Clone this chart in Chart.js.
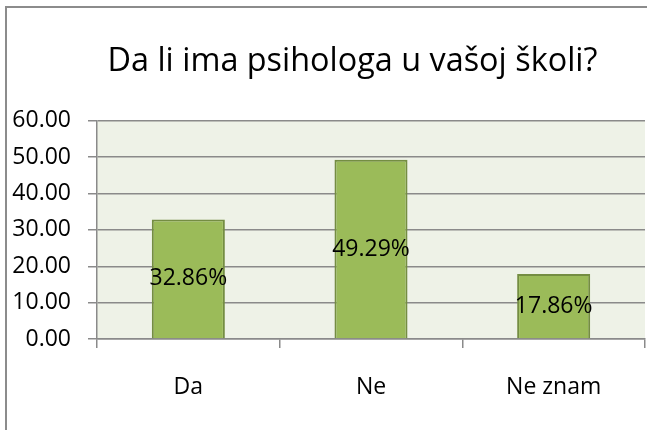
<!DOCTYPE html>
<html>
<head>
<meta charset="utf-8">
<script src="https://cdn.jsdelivr.net/npm/chart.js@4"></script>
<style>
  html, body { margin: 0; padding: 0; background: #fff; overflow: hidden; }
  #wrap { position: relative; width: 647px; height: 430px; overflow: hidden; }
  #chart { position: absolute; left: 0; top: 0; }
  #frame {
    position: absolute; left: 5px; top: 6px; right: 0; bottom: 0;
    border-left: 2px solid #8c8c8c; border-top: 2px solid #8c8c8c;
    pointer-events: none;
  }
</style>
</head>
<body>
<div id="wrap">
  <!-- the original picture is cropped on the right, so the canvas runs past the window -->
  <canvas id="chart" width="705" height="430"></canvas>
  <div id="frame"></div>
</div>
<script>
const categories = ["Da", "Ne", "Ne znam"];
const values = [32.86, 49.29, 17.86];
const yTicks = [0, 10, 20, 30, 40, 50, 60];
const chartTitle = "Da li ima psihologa u vašoj školi?";

const FONT = "'Open Sans', sans-serif";
const GRID = "#8a8a8a";

// light green plot area
const plotBg = {
  id: "plotBg",
  beforeDraw(chart) {
    const { ctx, chartArea: a } = chart;
    ctx.save();
    ctx.fillStyle = "#eef2e7";
    ctx.fillRect(a.left, a.top, a.right - a.left, a.bottom - a.top);
    ctx.restore();
  }
};

// percent labels in the middle of each bar
const barLabels = {
  id: "barLabels",
  afterDatasetsDraw(chart) {
    const { ctx } = chart;
    const meta = chart.getDatasetMeta(0);
    ctx.save();
    ctx.font = "23px " + FONT;
    ctx.fillStyle = "#000";
    ctx.textAlign = "center";
    ctx.textBaseline = "middle";
    meta.data.forEach((bar, i) => {
      const p = bar.getProps(["x", "y", "base"], true);
      ctx.fillText(values[i].toFixed(2) + "%", p.x, (p.y + p.base) / 2);
    });
    ctx.restore();
  }
};

new Chart(document.getElementById("chart"), {
  type: "bar",
  data: {
    labels: categories,
    datasets: [{
      data: values,
      backgroundColor: "#9bbb59",
      borderColor: "#748d42",
      borderWidth: 2,
      categoryPercentage: 1,
      barPercentage: 0.4
    }]
  },
  options: {
    responsive: false,
    animation: false,
    layout: { padding: 0 },
    plugins: {
      legend: { display: false },
      tooltip: { enabled: false },
      title: {
        display: true,
        text: chartTitle,
        color: "#000",
        font: { family: FONT, size: 32.4, weight: "normal" },
        padding: { top: 42, bottom: 40 }
      }
    },
    scales: {
      x: {
        afterFit(scale) { scale.height = 91; },
        grid: {
          offset: true,
          drawOnChartArea: false,
          drawTicks: true,
          tickLength: 9,
          color: GRID,
          lineWidth: 1.5
        },
        border: { color: GRID, width: 1.5 },
        ticks: {
          color: "#000",
          padding: 26,
          font: { family: FONT, size: 23 }
        }
      },
      y: {
        min: 0,
        max: 60,
        afterFit(scale) { scale.width = 97; },
        afterBuildTicks(scale) { scale.ticks = yTicks.map(v => ({ value: v })); },
        grid: {
          color: GRID,
          lineWidth: 1.5,
          tickLength: 9
        },
        border: { color: GRID, width: 1.5 },
        ticks: {
          color: "#000",
          padding: 17,
          font: { family: FONT, size: 23 },
          callback: v => Number(v).toFixed(2)
        }
      },
      // empty space on the right, part of the chart that the crop cuts off
      spacer: {
        position: "right",
        afterFit(scale) { scale.width = 60; },
        grid: { display: false },
        border: { display: false },
        ticks: { display: false }
      }
    }
  },
  plugins: [plotBg, barLabels]
});
</script>
</body>
</html>
